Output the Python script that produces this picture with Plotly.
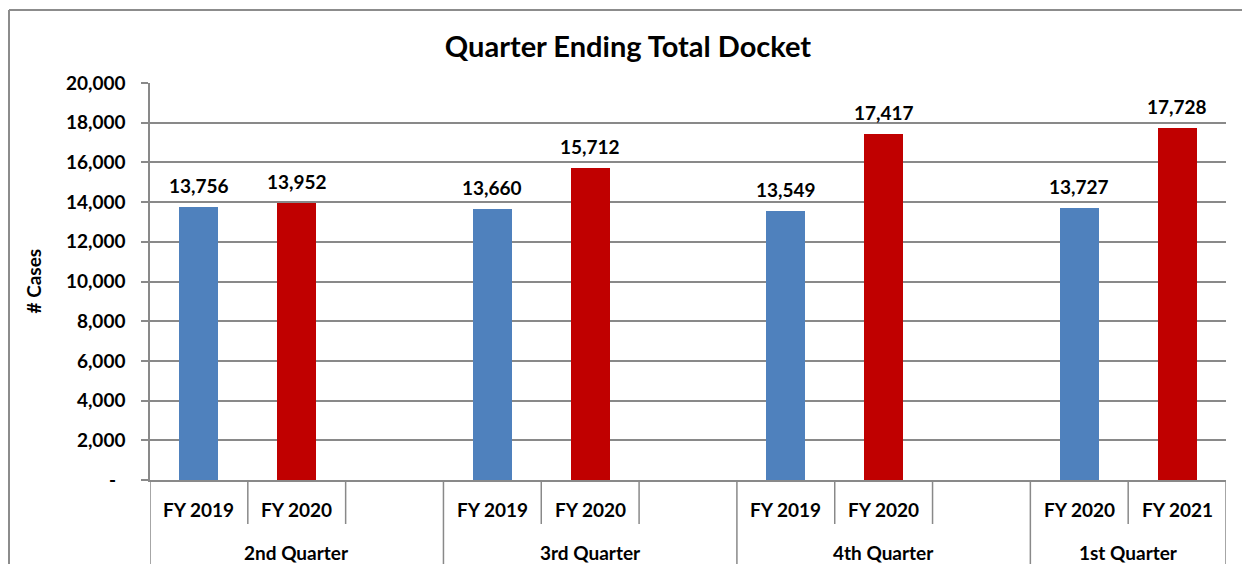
import plotly.graph_objects as go

# | data section |
quarters = ["2nd Quarter", "3rd Quarter", "4th Quarter", "1st Quarter"]
slots_per_quarter = [3, 3, 3, 2]
prior_labels = ["FY 2019", "FY 2019", "FY 2019", "FY 2020"]
current_labels = ["FY 2020", "FY 2020", "FY 2020", "FY 2021"]
prior_values = [13756, 13660, 13549, 13727]
current_values = [13952, 15712, 17417, 17728]
y_ticks = [0, 2000, 4000, 6000, 8000, 10000, 12000, 14000, 16000, 18000, 20000]
y_tick_labels = ["-\u00a0\u00a0", "2,000", "4,000", "6,000", "8,000", "10,000",
                 "12,000", "14,000", "16,000", "18,000", "20,000"]

# | layout helpers |
# the page body has an 8px margin, so the figure is a bit smaller than the window
W, H = 1234, 556
L, R, T, B = 142, 16, 75, 84
plot_w = W - L - R
plot_h = H - T - B

font_family = "Lato"
grid_color = "#898989"
label_font = {"family": font_family, "size": 19, "color": "black", "weight": "bold"}

starts = []
pos = 0
for n in slots_per_quarter:
    starts.append(pos)
    pos += n
n_slots = pos

prior_x = [s for s in starts]
current_x = [s + 1 for s in starts]

# | graph section |
fig = go.Figure()

fig.add_trace(
    go.Bar(
        x=prior_x,
        y=prior_values,
        width=0.4,
        marker={"color": "#4F81BD", "line": {"width": 0}},
        showlegend=False,
        hoverinfo="y",
    )
)
fig.add_trace(
    go.Bar(
        x=current_x,
        y=current_values,
        width=0.4,
        marker={"color": "#C00000", "line": {"width": 0}},
        showlegend=False,
        hoverinfo="y",
    )
)

annotations = []
shapes = []

# data labels above the bars
for xs, vals in ((prior_x, prior_values), (current_x, current_values)):
    for x, v in zip(xs, vals):
        annotations.append(
            dict(x=x, y=v, xref="x", yref="y", text=f"{v:,}", showarrow=False,
                 xanchor="center", yanchor="bottom", yshift=8, font=label_font)
        )

# category labels and separators (Excel-like multilevel axis)
lvl1_y = -30 / plot_h
lvl2_y = -72 / plot_h
inner_len = -44 / plot_h
group_len = -85 / plot_h
for q, s, n, pl, cl in zip(quarters, starts, slots_per_quarter, prior_labels, current_labels):
    for x, lab in ((s, pl), (s + 1, cl)):
        annotations.append(
            dict(x=x, y=lvl1_y, xref="x", yref="paper", text=lab, showarrow=False,
                 xanchor="center", yanchor="middle", font=label_font)
        )
    annotations.append(
        dict(x=s + (n - 1) / 2, y=lvl2_y, xref="x", yref="paper", text=q, showarrow=False,
             xanchor="center", yanchor="middle", font=label_font)
    )
    shapes.append(dict(type="line", xref="x", yref="paper", x0=s - 0.5, x1=s - 0.5,
                       y0=0, y1=group_len, line={"color": grid_color, "width": 1.5}))
    for k in range(1, n):
        shapes.append(dict(type="line", xref="x", yref="paper", x0=s + k - 0.5, x1=s + k - 0.5,
                           y0=0, y1=inner_len, line={"color": grid_color, "width": 1.5}))
shapes.append(dict(type="line", xref="x", yref="paper", x0=n_slots - 0.5, x1=n_slots - 0.5,
                   y0=0, y1=group_len, line={"color": grid_color, "width": 1.5}))

# y axis title, placed like Excel's
annotations.append(
    dict(x=(25 - L) / plot_w, y=0.5, xref="paper", yref="paper", text="# Cases",
         textangle=-90, showarrow=False, xanchor="center", yanchor="middle",
         font=label_font)
)

# outer chart border (top and left visible)
bx = (1 - L) / plot_w
by = 1 + (T - 2) / plot_h
shapes.append(dict(type="line", xref="paper", yref="paper", x0=bx, x1=1.1,
                   y0=by, y1=by, line={"color": "#8c8c8c", "width": 2}))
shapes.append(dict(type="line", xref="paper", yref="paper", x0=bx, x1=bx,
                   y0=by, y1=-0.4, line={"color": "#8c8c8c", "width": 2}))

fig.update_layout(
    title={
        "text": "Quarter Ending Total Docket",
        "x": 620 / W,
        "xanchor": "center",
        "y": 1 - 39 / H,
        "yanchor": "middle",
        "font": {"family": font_family, "size": 29, "color": "black", "weight": "bold"},
    },
    width=W,
    height=H,
    margin={"l": L, "r": R, "t": T, "b": B},
    paper_bgcolor="white",
    plot_bgcolor="white",
    bargap=0,
    annotations=annotations,
    shapes=shapes,
    xaxis={
        "range": [-0.5, n_slots - 0.5],
        "showticklabels": False,
        "showgrid": False,
        "zeroline": False,
        "showline": True,
        "linecolor": grid_color,
        "linewidth": 1.5,
        "fixedrange": True,
    },
    yaxis={
        "range": [0, 20000],
        "tickvals": y_ticks,
        "ticktext": y_tick_labels,
        "ticks": "outside",
        "ticklen": 7,
        "tickcolor": grid_color,
        "tickwidth": 1.5,
        "ticklabelstandoff": 12,
        "showgrid": True,
        "gridcolor": grid_color,
        "gridwidth": 1.5,
        "zeroline": False,
        "showline": True,
        "linecolor": grid_color,
        "linewidth": 1.5,
        "tickfont": label_font,
    },
)

fig.write_html("out.html")
